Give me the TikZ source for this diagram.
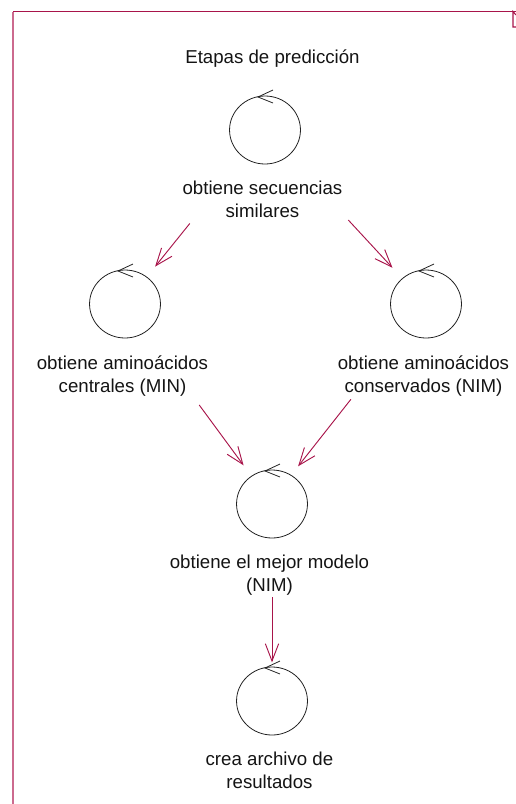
\documentclass[tikz,border=0pt]{standalone}
\usepackage{fontspec}
\setmainfont{Liberation Sans}
\usetikzlibrary{arrows.meta,positioning,shapes.geometric}
\definecolor{rosered}{HTML}{A8144A}
\definecolor{rosepink}{HTML}{CC6A8E}
\definecolor{inkgray}{HTML}{222222}
\tikzset{
stt/.style={
  draw=inkgray,line width=.6pt,ellipse,inner sep=0pt,
  minimum width=53.2pt,minimum height=51pt},
lbl/.style={
  align=center,inner sep=0pt,text=black!92,
  font=\fontsize{14}{17.25}\selectfont},
sttlbl/.style={lbl,xshift=-1.9pt},
flow/.style={
  draw=rosered,line width=.7pt,
  -{Straight Barb[length=13pt,width=10pt,line width=.7pt]}}}

\begin{document}
\begin{tikzpicture}[x=.75pt,y=-.75pt]
\useasboundingbox (0,0) rectangle (516,804);
\coordinate (tl) at (13,11.5);
\coordinate (tr) at (516,11.5);
\coordinate (bl) at (13,804);
\draw[rosepink,line width=1.1pt] (tl) -- (bl);
\draw[rosered,line width=.8pt] (tl) -- (tr);
\draw[rosered,line width=.8pt] (516,15) -- (513,11.5) -- (513,27) -- (516,27);

\node[lbl] (title) at (272.5,59) {Etapas de predicci\'on};

\node[stt] (sim) at (265,130) {};
\node[stt] (cen) at (125,304) {};
\node[stt] (con) at (426,304) {};
\node[stt] (mej) at (272,504) {};
\node[stt] (cre) at (272,701) {};

\node[sttlbl,below=12.5pt of sim] (lsim) {obtiene secuencias\\similares};
\node[sttlbl,below=12.5pt of cen] (lcen) {obtiene amino\'acidos\\centrales (MIN)};
\node[sttlbl,below=12.5pt of con] (lcon) {obtiene amino\'acidos\\conservados (NIM)};
\node[sttlbl,below=12.5pt of mej] (lmej) {obtiene el mejor modelo\\(NIM)};
\node[sttlbl,below=12.5pt of cre] (lcre) {crea archivo de\\resultados};

\foreach \n in {sim,cen,con,mej,cre}
  \draw[inkgray,line width=.6pt] ([shift={(8,-40)}]\n.center) -- ([shift={(-7,-33)}]\n.center) -- ([shift={(8,-27)}]\n.center);

\draw[flow,shorten <=90pt,shorten >=36pt] (sim.center) -- (cen.center);
\draw[flow,shorten <=92pt,shorten >=37pt] (sim.center) -- (con.center);
\draw[flow,shorten <=94pt,shorten >=36pt] (cen.center) -- (mej.center);
\draw[flow,shorten <=91pt,shorten >=36pt] (con.center) -- ([xshift=-2.7pt]mej.center);
\draw[flow,shorten <=70pt,shorten >=29pt] (mej.center) -- (cre.center);
\end{tikzpicture}
\end{document}
